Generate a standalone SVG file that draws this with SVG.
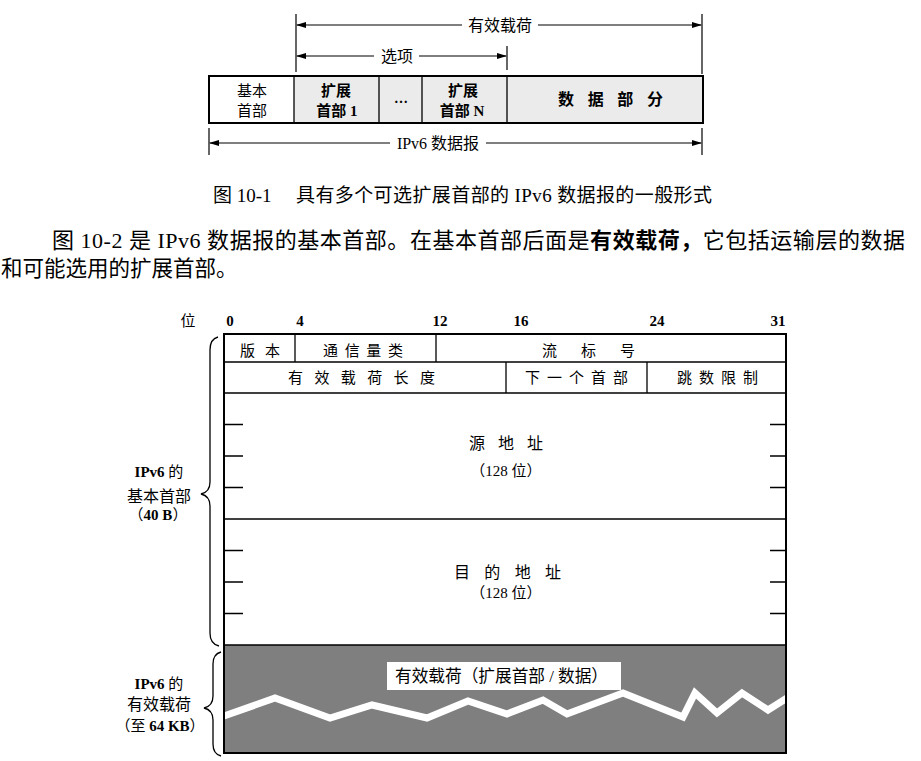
<svg xmlns="http://www.w3.org/2000/svg" width="921" height="761" viewBox="0 0 921 761">
<defs>
<style>
.t{font-family:'Liberation Serif','Noto Sans CJK SC',serif;fill:#000;}
.c{text-anchor:middle}
.b{font-weight:bold}
.box{fill:none;stroke:#000;stroke-width:2}
.ln{stroke:#000;stroke-width:1.3;fill:none}
.dim{stroke:#000;stroke-width:1.2;fill:none;marker-end:url(#ah)}
.tick{stroke:#000;stroke-width:1.2;fill:none}
.brace{stroke:#000;stroke-width:1.3;fill:none}
</style>
<marker id="ah" markerWidth="10" markerHeight="6" refX="9" refY="3" orient="auto" markerUnits="userSpaceOnUse"><path d="M0,0 L10,3 L0,6 z" fill="#000"/></marker>
</defs>
<rect width="921" height="761" fill="#fff"/>

<!-- Figure 10-1 -->
<g id="fig1-datagram">
  <rect x="294" y="76" width="409" height="47" fill="#ebebeb"/>
  <rect x="209" y="76" width="494" height="47" class="box"/>
  <line x1="294" y1="76" x2="294" y2="123" class="ln"/>
  <line x1="379" y1="76" x2="379" y2="123" class="ln"/>
  <line x1="422" y1="76" x2="422" y2="123" class="ln"/>
  <line x1="507" y1="76" x2="507" y2="123" class="ln"/>
</g>
<g id="cell-basic-header">
  <text class="t c" x="252" y="96" font-size="15">基本</text>
  <text class="t c" x="252" y="116" font-size="15">首部</text>
</g>
<g id="cell-ext-header-1">
  <text class="t c b" x="336" y="96" font-size="15">扩展</text>
  <text class="t c b" x="337" y="116" font-size="15">首部 1</text>
</g>
<g id="cell-ellipsis">
  <text class="t c b" x="401" y="103" font-size="14">…</text>
</g>
<g id="cell-ext-header-n">
  <text class="t c b" x="463" y="96" font-size="15">扩展</text>
  <text class="t c b" x="462" y="116" font-size="15">首部 N</text>
</g>
<g id="cell-data">
  <text class="t b" x="558" y="105" font-size="16" textLength="105" lengthAdjust="spacing">数据部分</text>
</g>

<g id="connectors">
  <line x1="296" y1="14" x2="296" y2="72" class="tick"/>
  <line x1="702" y1="14" x2="702" y2="74" class="tick"/>
  <line x1="507" y1="46" x2="507" y2="70" class="tick"/>
  <line x1="209" y1="128" x2="209" y2="155" class="tick"/>
  <line x1="702" y1="128" x2="702" y2="155" class="tick"/>
  <path d="M462,25 H297" class="dim"/>
  <path d="M538,25 H701" class="dim"/>
  <path d="M374,56 H297" class="dim"/>
  <path d="M419,56 H506" class="dim"/>
  <path d="M390,143 H210" class="dim"/>
  <path d="M486,143 H701" class="dim"/>
  <path d="M218,337 Q210,339 210,350 L210,482 Q210,492 201,494 Q210,496 210,506 L210,633 Q210,644 219,646" class="brace"/>
  <path d="M221,652 Q213,654 213,664 L213,696 Q213,706 204,708 Q213,710 213,720 L213,744 Q213,754 221,756" class="brace"/>
</g>

<g id="label-payload-top"><text class="t c" x="500" y="31" font-size="16">有效载荷</text></g>
<g id="label-options"><text class="t c" x="397" y="62" font-size="16">选项</text></g>
<g id="label-ipv6-datagram"><text class="t c" x="438" y="149" font-size="16">IPv6 数据报</text></g>

<g id="caption-10-1">
  <text class="t" x="213" y="202" font-size="19">图 10-1</text>
  <text class="t" x="296" y="202" font-size="19" textLength="416" lengthAdjust="spacing">具有多个可选扩展首部的 IPv6 数据报的一般形式</text>
</g>

<g id="paragraph">
  <text class="t" x="52" y="248" font-size="22" textLength="853" lengthAdjust="spacing">图 10-2 是 IPv6 数据报的基本首部。在基本首部后面是<tspan class="b">有效载荷，</tspan>它包括运输层的数据</text>
  <text class="t" x="1" y="276" font-size="21.5">和可能选用的扩展首部。</text>
</g>

<!-- Figure 10-2 -->
<g id="bit-scale">
  <text class="t c" x="188" y="326" font-size="15">位</text>
  <text class="t c b" x="230" y="326" font-size="15">0</text>
  <text class="t c b" x="300" y="326" font-size="15">4</text>
  <text class="t c b" x="440" y="326" font-size="15">12</text>
  <text class="t c b" x="521" y="326" font-size="15">16</text>
  <text class="t c b" x="657" y="326" font-size="15">24</text>
  <text class="t c b" x="778" y="326" font-size="15">31</text>
</g>

<g id="payload-area">
  <rect x="224" y="645" width="562" height="108" fill="#7f7f7f"/>
  <polyline points="224,716 275,698 330,718 372,705 427,718 468,701 507,714 543,700 567,714 623,693 683,717 695,693 717,713 742,693 768,710 787,698" fill="none" stroke="#fff" stroke-width="7" stroke-linejoin="miter"/>
  <rect x="387" y="662" width="234" height="28" fill="#fff"/>
  <text class="t" x="395" y="682" font-size="17" textLength="213" lengthAdjust="spacingAndGlyphs">有效载荷（扩展首部 / 数据）</text>
</g>

<g id="header-frame">
  <rect x="224" y="334" width="562" height="419" class="box"/>
  <line x1="224" y1="362" x2="786" y2="362" class="ln"/>
  <line x1="224" y1="393" x2="786" y2="393" class="ln"/>
  <line x1="224" y1="519" x2="786" y2="519" class="ln"/>
  <line x1="224" y1="645" x2="786" y2="645" class="ln" stroke-width="1.8"/>
  <line x1="295" y1="334" x2="295" y2="362" class="ln"/>
  <line x1="436" y1="334" x2="436" y2="362" class="ln"/>
  <line x1="506" y1="362" x2="506" y2="393" class="ln"/>
  <line x1="647" y1="362" x2="647" y2="393" class="ln"/>
  <g class="ln">
    <path d="M224,424.5 H243 M224,456 H243 M224,487.5 H243 M224,550.5 H243 M224,582 H243 M224,613.5 H243"/>
    <path d="M770,424.5 H786 M770,456 H786 M770,487.5 H786 M770,550.5 H786 M770,582 H786 M770,613.5 H786"/>
  </g>
</g>

<g id="field-version"><text class="t" x="240" y="355.5" font-size="15" textLength="40" lengthAdjust="spacing">版本</text></g>
<g id="field-traffic-class"><text class="t" x="323" y="355.5" font-size="15" textLength="80" lengthAdjust="spacing">通信量类</text></g>
<g id="field-flow-label"><text class="t" x="542" y="355.5" font-size="15" textLength="93" lengthAdjust="spacing">流标号</text></g>
<g id="field-payload-length"><text class="t" x="288" y="383" font-size="15" textLength="147" lengthAdjust="spacing">有效载荷长度</text></g>
<g id="field-next-header"><text class="t" x="525" y="383" font-size="15" textLength="103" lengthAdjust="spacing">下一个首部</text></g>
<g id="field-hop-limit"><text class="t" x="677" y="383" font-size="15" textLength="81" lengthAdjust="spacing">跳数限制</text></g>
<g id="field-source">
  <text class="t" x="469" y="449" font-size="16" textLength="74" lengthAdjust="spacing">源地址</text>
  <text class="t c" x="506" y="476" font-size="15">（128 位）</text>
</g>
<g id="field-destination">
  <text class="t" x="454" y="578" font-size="16" textLength="107" lengthAdjust="spacing">目的地址</text>
  <text class="t c" x="506" y="598" font-size="15">（128 位）</text>
</g>

<g id="label-basic-header">
  <text class="t c" x="159" y="476.5" font-size="15"><tspan class="b">IPv6</tspan> 的</text>
  <text class="t c" x="159" y="502" font-size="16">基本首部</text>
  <text class="t c" x="158" y="520" font-size="15">（<tspan class="b">40 B</tspan>）</text>
</g>
<g id="label-payload">
  <text class="t c" x="159" y="689" font-size="15"><tspan class="b">IPv6</tspan> 的</text>
  <text class="t c" x="159" y="710" font-size="16">有效载荷</text>
  <text class="t c" x="160" y="731" font-size="15">（至 <tspan class="b">64 KB</tspan>）</text>
</g>
</svg>
